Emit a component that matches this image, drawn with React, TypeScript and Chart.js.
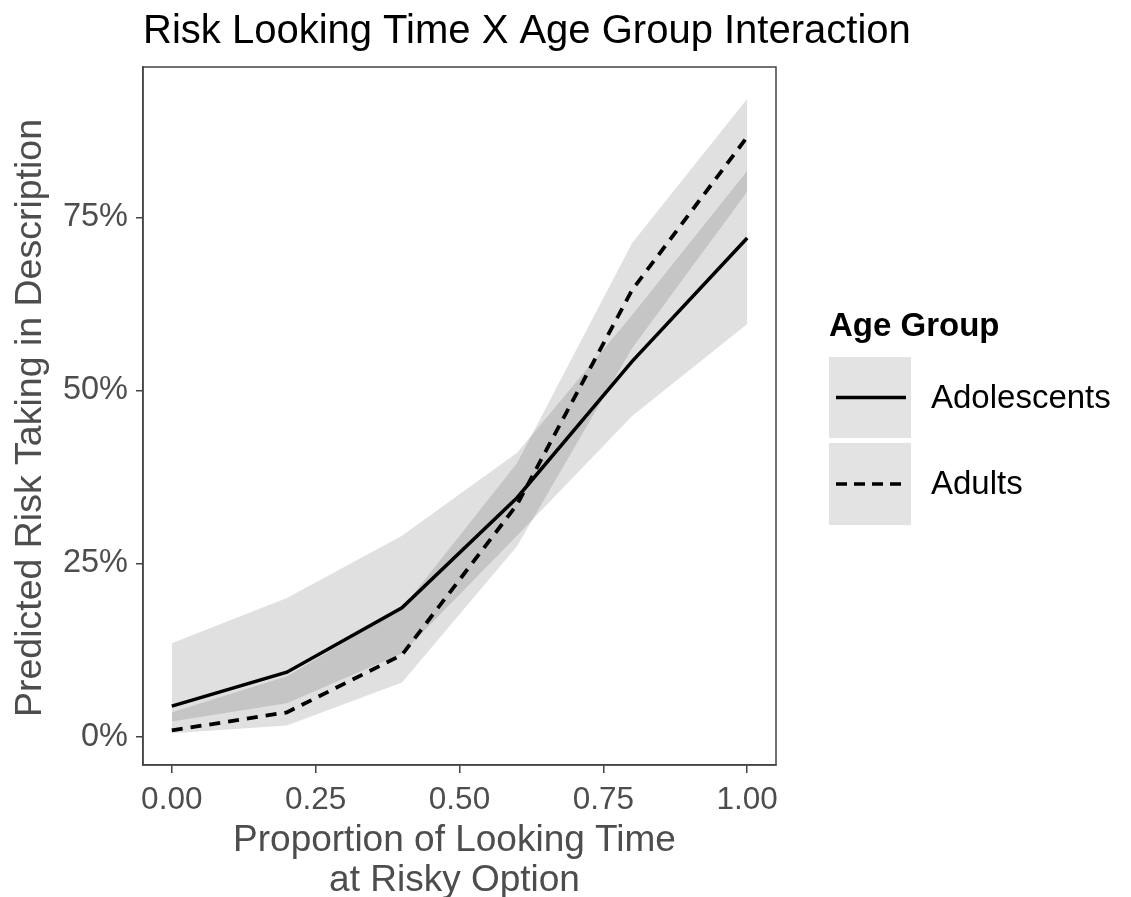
import React, { useEffect, useRef } from "react";
import { Chart, registerables } from "chart.js";

Chart.register(...registerables);

// ---- data ----
const xValues = [0, 0.2, 0.4, 0.6, 0.8, 1.0];
const adolescentsFit = [0.044, 0.093, 0.186, 0.345, 0.542, 0.72];
const adolescentsLower = [0.022, 0.048, 0.12, 0.29, 0.463, 0.596];
const adolescentsUpper = [0.135, 0.2, 0.29, 0.41, 0.609, 0.817];
const adultsFit = [0.009, 0.035, 0.118, 0.335, 0.645, 0.866];
const adultsLower = [0.005, 0.016, 0.078, 0.275, 0.561, 0.787];
const adultsUpper = [0.035, 0.087, 0.185, 0.395, 0.713, 0.921];

const xTicks = [0, 0.25, 0.5, 0.75, 1.0];
const yTicks = [0, 0.25, 0.5, 0.75];

const chartTitle = "Risk Looking Time X Age Group Interaction";
const yTitle = "Predicted Risk Taking in Description";
const xTitleLines = ["Proportion of Looking Time", "at Risky Option"];
const legendTitle = "Age Group";
const seriesNames = ["Adolescents", "Adults"];

const FONT = '"Liberation Sans", Arial, Helvetica, sans-serif';
const BAND = "rgba(0,0,0,0.12)";
const AXIS_GREY = "#4d4d4d";
const BORDER = "#444444";

export default function App() {
  const ref = useRef<HTMLCanvasElement>(null);

  useEffect(() => {
    const canvas = ref.current;
    if (!canvas) return;
    const pts = (ys: number[]) => xValues.map((x, i) => ({ x, y: ys[i] }));

    const decor = {
      id: "decor",
      afterDraw(chart: any) {
        const ctx = chart.ctx as CanvasRenderingContext2D;
        const a = chart.chartArea;
        ctx.save();
        // panel border
        ctx.strokeStyle = BORDER;
        ctx.lineWidth = 1.5;
        ctx.strokeRect(a.left, a.top, a.right - a.left, a.bottom - a.top);

        // title
        ctx.fillStyle = "#000";
        ctx.font = `40px ${FONT}`;
        ctx.textAlign = "left";
        ctx.textBaseline = "alphabetic";
        ctx.fillText(chartTitle, a.left, 43);

        // y axis title
        ctx.save();
        ctx.translate(31, (a.top + a.bottom) / 2 + 2);
        ctx.rotate(-Math.PI / 2);
        ctx.fillStyle = AXIS_GREY;
        ctx.font = `37.5px ${FONT}`;
        ctx.textAlign = "center";
        ctx.textBaseline = "middle";
        ctx.fillText(yTitle, 0, 0);
        ctx.restore();

        // x axis title
        ctx.fillStyle = AXIS_GREY;
        ctx.font = `37px ${FONT}`;
        ctx.textAlign = "center";
        ctx.textBaseline = "alphabetic";
        const cx = (a.left + a.right) / 2 - 5;
        ctx.fillText(xTitleLines[0], cx, 851);
        ctx.fillText(xTitleLines[1], cx, 891);

        // legend
        ctx.fillStyle = "#000";
        ctx.font = `bold 33px ${FONT}`;
        ctx.textAlign = "left";
        ctx.fillText(legendTitle, 829, 336);

        const keys = [
          { y: 357, h: 81, dash: [] as number[] },
          { y: 443, h: 82, dash: [11, 7] },
        ];
        keys.forEach((k, i) => {
          ctx.fillStyle = "#e3e3e3";
          ctx.fillRect(829, k.y, 82, k.h);
          const ly = k.y + k.h / 2;
          ctx.strokeStyle = "#000";
          ctx.lineWidth = 3.5;
          ctx.setLineDash(k.dash);
          ctx.beginPath();
          ctx.moveTo(836, ly);
          ctx.lineTo(906, ly);
          ctx.stroke();
          ctx.setLineDash([]);
          ctx.fillStyle = "#000";
          ctx.font = `33px ${FONT}`;
          ctx.textBaseline = "middle";
          ctx.fillText(seriesNames[i], 931, ly + 1);
          ctx.textBaseline = "alphabetic";
        });
        ctx.restore();
      },
    };

    const hidden = {
      fill: false,
      borderColor: "transparent",
      borderWidth: 1,
      pointRadius: 0,
    };

    const chart = new Chart(canvas, {
      type: "line",
      data: {
        datasets: [
          { ...hidden, data: pts(adolescentsUpper), fill: "+1", backgroundColor: BAND },
          { ...hidden, data: pts(adolescentsLower) },
          { ...hidden, data: pts(adultsUpper), fill: "+1", backgroundColor: BAND },
          { ...hidden, data: pts(adultsLower) },
          {
            label: seriesNames[0],
            data: pts(adolescentsFit),
            borderColor: "#000",
            borderWidth: 3.5,
            pointRadius: 0,
            fill: false,
            tension: 0,
          },
          {
            label: seriesNames[1],
            data: pts(adultsFit),
            borderColor: "#000",
            borderWidth: 3.8,
            borderDash: [11, 8],
            pointRadius: 0,
            fill: false,
            tension: 0,
          },
        ],
      } as any,
      options: {
        animation: false,
        responsive: false,
        events: [],
        layout: { padding: { left: 0, top: 67, right: 355, bottom: 0 } },
        plugins: {
          legend: { display: false },
          tooltip: { enabled: false },
          filler: { drawTime: "beforeDatasetsDraw" },
        } as any,
        scales: {
          x: {
            type: "linear",
            min: -0.05,
            max: 1.05,
            afterBuildTicks: (s: any) => {
              s.ticks = xTicks.map((v) => ({ value: v }));
            },
            afterFit: (s: any) => {
              s.height = 132;
            },
            grid: {
              drawOnChartArea: false,
              drawTicks: true,
              tickLength: 8,
              color: BORDER,
              lineWidth: 1.5,
            },
            border: { display: true, color: BORDER, width: 1.5 },
            ticks: {
              font: { family: FONT, size: 31.5 },
              color: AXIS_GREY,
              padding: 8,
              maxRotation: 0,
              autoSkip: false,
              callback: (v: any) => Number(v).toFixed(2),
            },
          },
          y: {
            type: "linear",
            min: -0.041,
            max: 0.967,
            afterBuildTicks: (s: any) => {
              s.ticks = yTicks.map((v) => ({ value: v }));
            },
            afterFit: (s: any) => {
              s.width = 143;
            },
            grid: {
              drawOnChartArea: false,
              drawTicks: true,
              tickLength: 7,
              color: BORDER,
              lineWidth: 1.5,
            },
            border: { display: true, color: BORDER, width: 1.5 },
            ticks: {
              font: { family: FONT, size: 32.5 },
              color: AXIS_GREY,
              padding: 8,
              autoSkip: false,
              callback: (v: any) => Math.round(Number(v) * 100) + "%",
            },
          },
        },
      } as any,
      plugins: [decor],
    });

    return () => chart.destroy();
  }, []);

  return (
    <canvas
      ref={ref}
      width={1131}
      height={897}
      style={{ position: "fixed", left: 0, top: 0, display: "block", background: "#fff" }}
    />
  );
}
